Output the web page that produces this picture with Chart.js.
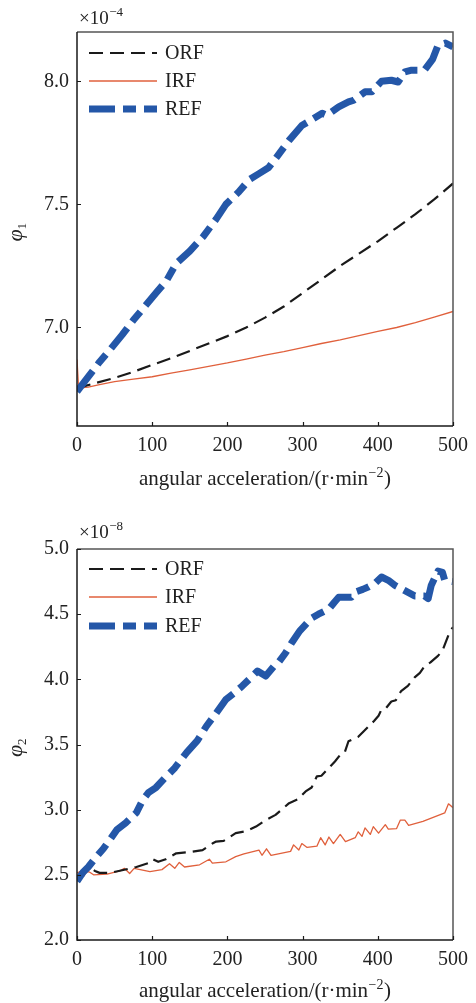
<!DOCTYPE html>
<html>
<head>
<meta charset="utf-8">
<script src="https://cdn.jsdelivr.net/npm/chart.js@4.4.1/dist/chart.umd.min.js"></script>
<style>
  html, body { margin: 0; padding: 0; background: #fff; }
  #wrap { position: relative; width: 476px; height: 1003px; }
  canvas { position: absolute; left: 0; }
</style>
</head>
<body>
<div id="wrap">
  <canvas id="c1" width="476" height="500" style="top:0"></canvas>
  <canvas id="c2" width="476" height="503" style="top:500px"></canvas>
</div>
<script>
// ---- shared axis values ----
const xTicks = [0, 100, 200, 300, 400, 500];
const xTitle = 'angular acceleration/(r\u00b7min';
const legendLabels = ['ORF', 'IRF', 'REF'];

// ---- phi_1 (x1e-4) ----
const phi1Ticks = [7.0, 7.5, 8.0];
const phi1ORF = [[0,6.752],[10,6.762],[25,6.775],[50,6.795],[75,6.82],[100,6.848],[125,6.875],[150,6.905],[175,6.935],[200,6.965],[225,7.0],[250,7.04],[275,7.085],[300,7.14],[325,7.195],[350,7.25],[375,7.3],[400,7.35],[425,7.405],[450,7.46],[475,7.52],[500,7.585]];
const phi1IRF = [[0,6.87],[2,6.76],[5,6.755],[15,6.758],[30,6.768],[50,6.78],[75,6.79],[100,6.80],[125,6.815],[150,6.828],[175,6.842],[200,6.856],[225,6.872],[250,6.888],[275,6.902],[300,6.918],[325,6.935],[350,6.95],[375,6.967],[400,6.984],[425,7.0],[450,7.02],[475,7.042],[500,7.065]];
const phi1REF = [[0,6.74],[10,6.78],[20,6.82],[30,6.86],[44,6.91],[60,6.97],[75,7.03],[90,7.085],[105,7.14],[119,7.19],[132,7.26],[150,7.31],[168,7.37],[185,7.44],[198,7.50],[215,7.55],[229,7.60],[242,7.625],[255,7.65],[265,7.69],[282,7.76],[299,7.82],[310,7.84],[326,7.87],[332,7.862],[348,7.896],[361,7.916],[368,7.923],[383,7.957],[392,7.957],[405,8.0],[418,8.004],[427,7.997],[436,8.038],[445,8.045],[462,8.045],[473,8.09],[480,8.145],[490,8.155],[500,8.14]];

// ---- phi_2 (x1e-8) ----
const phi2Ticks = [2.0, 2.5, 3.0, 3.5, 4.0, 4.5, 5.0];
const phi2ORF = [[0,2.47],[6,2.50],[12,2.535],[18,2.55],[24,2.53],[30,2.515],[44,2.515],[60,2.535],[79,2.56],[95,2.59],[101,2.62],[108,2.60],[118,2.62],[132,2.665],[150,2.675],[167,2.69],[180,2.74],[185,2.755],[195,2.76],[211,2.82],[225,2.835],[238,2.87],[251,2.92],[264,2.96],[282,3.05],[294,3.08],[304,3.14],[312,3.17],[319,3.256],[325,3.26],[335,3.32],[343,3.37],[350,3.42],[356,3.44],[361,3.525],[374,3.56],[381,3.60],[388,3.64],[395,3.68],[401,3.72],[405,3.77],[411,3.78],[418,3.83],[424,3.84],[431,3.91],[440,3.95],[449,4.015],[456,4.05],[462,4.10],[470,4.13],[480,4.18],[486,4.22],[491,4.295],[496,4.37],[500,4.40]];
const phi2IRF = [[0,2.515],[4,2.525],[9,2.49],[13,2.525],[17,2.52],[22,2.5],[40,2.505],[57,2.53],[63,2.55],[70,2.51],[76,2.55],[97,2.525],[113,2.54],[123,2.585],[130,2.55],[136,2.595],[143,2.56],[163,2.577],[176,2.62],[180,2.59],[198,2.60],[211,2.64],[222,2.66],[242,2.69],[246,2.65],[252,2.70],[258,2.65],[284,2.68],[288,2.73],[295,2.69],[299,2.74],[306,2.71],[319,2.72],[324,2.785],[330,2.73],[335,2.79],[341,2.74],[350,2.81],[357,2.755],[370,2.785],[374,2.83],[379,2.795],[383,2.86],[390,2.81],[394,2.87],[401,2.82],[410,2.885],[414,2.85],[425,2.855],[430,2.92],[436,2.92],[441,2.88],[460,2.91],[489,2.975],[494,3.045],[500,3.015]];
const phi2REF = [[0,2.45],[8,2.52],[15,2.56],[26,2.64],[35,2.70],[45,2.78],[53,2.846],[65,2.90],[79,2.977],[87,3.07],[95,3.13],[105,3.17],[119,3.256],[130,3.32],[146,3.44],[160,3.53],[172,3.64],[185,3.74],[198,3.846],[210,3.90],[220,3.95],[229,4.0],[240,4.064],[251,4.025],[264,4.115],[268,4.13],[277,4.20],[286,4.285],[296,4.37],[304,4.42],[312,4.47],[321,4.50],[335,4.54],[342,4.59],[348,4.63],[357,4.63],[365,4.63],[370,4.67],[380,4.69],[388,4.71],[397,4.74],[405,4.785],[414,4.76],[423,4.72],[436,4.68],[449,4.64],[462,4.64],[467,4.62],[471,4.72],[480,4.83],[486,4.82],[489,4.76],[500,4.75]];

const SERIF = "'Liberation Serif','Times New Roman',serif";
const styles = [
  { color: '#1a1a1a', width: 2.2, dash: [14, 7], order: 1 },
  { color: '#e0603c', width: 1.3, dash: [], order: 2 },
  { color: '#2457a8', width: 7, dash: [26, 8, 13, 8], order: 0 }
];

function toPoints(pairs) { return pairs.map(p => ({ x: p[0], y: p[1] })); }

function buildChart(id, cfg) {
  const canvas = document.getElementById(id);
  const H = canvas.height;

  const decor = {
    id: 'decor',
    afterDatasetsDraw(chart) {
      const { ctx, chartArea: a, scales: { x, y } } = chart;
      ctx.save();
      // frame: top/right in grey, left/bottom in black
      ctx.lineWidth = 1.5;
      ctx.strokeStyle = '#555';
      ctx.beginPath();
      ctx.moveTo(a.left, a.top); ctx.lineTo(a.right, a.top); ctx.lineTo(a.right, a.bottom);
      ctx.stroke();
      ctx.strokeStyle = '#1a1a1a';
      ctx.beginPath();
      ctx.moveTo(a.left, a.top); ctx.lineTo(a.left, a.bottom); ctx.lineTo(a.right, a.bottom);
      ctx.stroke();
      // inward tick marks
      ctx.lineWidth = 1.2;
      ctx.beginPath();
      x.ticks.forEach(t => {
        const px = Math.round(x.getPixelForValue(t.value)) + 0.5;
        ctx.moveTo(px, a.bottom); ctx.lineTo(px, a.bottom - 4);
      });
      y.ticks.forEach(t => {
        const py = Math.round(y.getPixelForValue(t.value)) + 0.5;
        ctx.moveTo(a.left, py); ctx.lineTo(a.left + 4, py);
      });
      ctx.stroke();

      // legend
      const rowY = cfg.legendRows;
      chart.data.datasets.forEach((ds, i) => {
        const yy = rowY[i];
        ctx.save();
        ctx.strokeStyle = ds.borderColor;
        ctx.lineWidth = ds.borderWidth;
        ctx.setLineDash(ds.borderDash || []);
        ctx.lineCap = 'butt';
        ctx.beginPath();
        ctx.moveTo(89, yy); ctx.lineTo(157, yy);
        ctx.stroke();
        ctx.restore();
        ctx.fillStyle = '#222';
        ctx.font = '20px ' + SERIF;
        ctx.textAlign = 'left';
        ctx.textBaseline = 'middle';
        ctx.fillText(ds.label, 165, yy + 1);
      });

      // exponent marker above the y axis
      ctx.fillStyle = '#222';
      ctx.textAlign = 'left';
      ctx.textBaseline = 'alphabetic';
      ctx.font = '19px ' + SERIF;
      ctx.fillText('\u00d710', 79, cfg.expY);
      const w = ctx.measureText('\u00d710').width;
      ctx.font = '13px ' + SERIF;
      ctx.fillText('\u2212' + cfg.expPow, 79 + w + 0.5, cfg.expY - 8);

      // y-axis title: italic phi with subscript index
      const cy = (a.top + a.bottom) / 2 + 3;
      ctx.save();
      ctx.translate(22, cy);
      ctx.rotate(-Math.PI / 2);
      ctx.font = 'italic 22px ' + SERIF;
      const pw = ctx.measureText('\u03c6').width;
      const sw = 7;
      ctx.textAlign = 'left';
      ctx.fillText('\u03c6', -(pw + sw) / 2, 0);
      ctx.font = '13px ' + SERIF;
      ctx.fillText(cfg.sub, -(pw + sw) / 2 + pw, 4);
      ctx.restore();

      // x-axis title with superscript exponent
      ctx.font = '21px ' + SERIF;
      const mainW = ctx.measureText(xTitle).width;
      ctx.font = '14px ' + SERIF;
      const supW = ctx.measureText('\u22122').width;
      ctx.font = '21px ' + SERIF;
      const closeW = ctx.measureText(')').width;
      const total = mainW + supW + closeW + 1;
      let tx = (a.left + a.right) / 2 - total / 2;
      const ty = cfg.xTitleY;
      ctx.fillText(xTitle, tx, ty);
      tx += mainW + 0.5;
      ctx.font = '14px ' + SERIF;
      ctx.fillText('\u22122', tx, ty - 8);
      tx += supW + 0.5;
      ctx.font = '21px ' + SERIF;
      ctx.fillText(')', tx, ty);
      ctx.restore();
    }
  };

  return new Chart(canvas, {
    type: 'line',
    data: {
      datasets: cfg.series.map((s, i) => ({
        label: legendLabels[i],
        data: toPoints(s),
        borderColor: styles[i].color,
        backgroundColor: styles[i].color,
        borderWidth: styles[i].width,
        borderDash: styles[i].dash,
        borderCapStyle: 'butt',
        borderJoinStyle: 'round',
        pointRadius: 0,
        tension: 0,
        fill: false,
        order: styles[i].order
      }))
    },
    options: {
      responsive: false,
      animation: false,
      events: [],
      layout: { padding: { top: cfg.top, right: 21, left: 0, bottom: 0 } },
      plugins: { legend: { display: false }, tooltip: { enabled: false } },
      scales: {
        x: {
          type: 'linear', min: 0, max: 500,
          afterBuildTicks: s => { s.ticks = xTicks.map(v => ({ value: v })); },
          afterFit: s => { s.height = H - cfg.bottom; },
          grid: { display: false, drawTicks: false },
          border: { display: false },
          ticks: { font: { family: SERIF, size: 20 }, color: '#222', padding: cfg.xPad, maxRotation: 0, callback: v => String(v) }
        },
        y: {
          type: 'linear', min: cfg.yMin, max: cfg.yMax,
          afterBuildTicks: s => { s.ticks = cfg.yTicks.map(v => ({ value: v })); },
          afterFit: s => { s.width = 77; },
          grid: { display: false, drawTicks: false },
          border: { display: false },
          ticks: { font: { family: SERIF, size: 20 }, color: '#222', padding: 8, callback: v => Number(v).toFixed(1) }
        }
      }
    },
    plugins: [decor]
  });
}

buildChart('c1', {
  series: [phi1ORF, phi1IRF, phi1REF],
  yMin: 6.6, yMax: 8.2, yTicks: phi1Ticks,
  top: 32, bottom: 426, xPad: 8,
  legendRows: [53, 81, 109],
  expY: 24, expPow: '4', sub: '1', xTitleY: 485
});

buildChart('c2', {
  series: [phi2ORF, phi2IRF, phi2REF],
  yMin: 2.0, yMax: 5.0, yTicks: phi2Ticks,
  top: 49, bottom: 440, xPad: 8,
  legendRows: [69, 97, 126],
  expY: 38, expPow: '8', sub: '2', xTitleY: 997
    - 500
});
</script>
</body>
</html>
